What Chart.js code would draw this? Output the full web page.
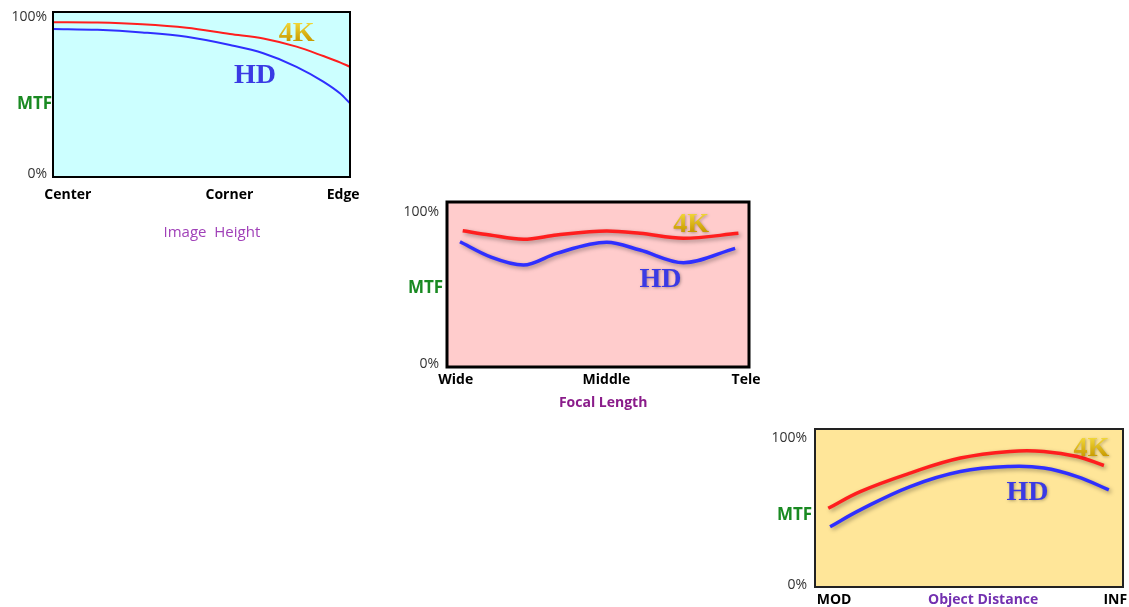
<!DOCTYPE html>
<html>
<head>
<meta charset="utf-8">
<script src="https://cdn.jsdelivr.net/npm/chart.js@4"></script>
<style>
  html, body { margin: 0; padding: 0; background: #fff; width: 1129px; height: 607px; overflow: hidden; }
  .box { position: absolute; }
</style>
</head>
<body>
<div class="box" style="left:0;top:0;width:370px;height:250px"><canvas id="c1"></canvas></div>
<div class="box" style="left:390px;top:190px;width:380px;height:230px"><canvas id="c2"></canvas></div>
<div class="box" style="left:760px;top:420px;width:369px;height:187px"><canvas id="c3"></canvas></div>
<script>
// ── Data ────────────────────────────────────────────────────────────────────
const Y_TICK_LABELS = ['0%', '100%'];

// 1. Image height
const X1_LABELS = ['Center', 'Corner', 'Edge'];
const X1_TICKS  = [0.05, 0.594, 0.977];
const Y1_TICKS  = [1.8, 96.8];
const IH_X      = [0, 0.15, 0.3, 0.45, 0.596, 0.708, 0.82, 0.91, 0.966, 1.0];
const IH_4K     = [93.8, 93.6, 92.6, 90.5, 86.7, 84.0, 79.0, 73.3, 69.5, 66.8];
const IH_HD     = [89.7, 89.2, 87.6, 85.0, 80.0, 75.0, 66.8, 57.8, 50.7, 44.7];

// 2. Focal length
const X2_LABELS = ['Wide', 'Middle', 'Tele'];
const X2_TICKS  = [0.029, 0.528, 0.99];
const Y2_TICKS  = [1.8, 94.1];
const FL_4K_X   = [0.052, 0.142, 0.253, 0.363, 0.529, 0.639, 0.783, 0.965];
const FL_4K     = [82.6, 80.0, 77.4, 80.0, 82.4, 81.0, 78.0, 81.0];
const FL_HD_X   = [0.043, 0.142, 0.253, 0.363, 0.529, 0.639, 0.783, 0.954];
const FL_HD     = [75.9, 66.9, 61.8, 68.9, 75.6, 70.9, 63.2, 71.9];

// 3. Object distance
const X3_LABELS = ['MOD', 'INF'];
const X3_TICKS  = [0.062, 0.975];
const Y3_TICKS  = [1.1, 94.3];
const OD_4K_X   = [0.043, 0.147, 0.309, 0.472, 0.634, 0.743, 0.851, 0.938];
const OD_4K     = [49.8, 60.4, 72.1, 81.6, 85.8, 85.8, 82.6, 76.9];
const OD_HD_X   = [0.049, 0.147, 0.309, 0.472, 0.634, 0.743, 0.851, 0.954];
const OD_HD     = [38.1, 48.8, 63.6, 73.1, 76.3, 75.3, 69.9, 61.5];

const RED  = '#ff1e1e';
const BLUE = '#2f2fff';

const pts = (xs, ys) => xs.map((x, i) => ({ x, y: ys[i] }));

// ── Plugin: panel background, border, MTF, series tags, axis title ─────────
const panelPlugin = {
  id: 'panel',
  beforeDraw(chart, args, o) {
    const { ctx, chartArea: a, scales } = chart;
    ctx.save();
    ctx.fillStyle = '#1a8a22';
    ctx.font = 'bold 17px "Open Sans", sans-serif';
    ctx.textBaseline = 'middle';
    ctx.textAlign = 'left';
    ctx.fillText('MTF', a.left + o.mtfDx, scales.y.getPixelForValue(o.mtfY));
    ctx.fillStyle = o.bg;
    ctx.fillRect(a.left, a.top, a.right - a.left, a.bottom - a.top);
    ctx.restore();
  },
  beforeDatasetDraw(chart, args, o) {
    if (!o.shadow) return;
    const ctx = chart.ctx;
    ctx.save();
    ctx.shadowColor = 'rgba(0,0,0,0.35)';
    ctx.shadowBlur = 4;
    ctx.shadowOffsetX = 2;
    ctx.shadowOffsetY = 2;
  },
  afterDatasetDraw(chart, args, o) {
    if (o.shadow) chart.ctx.restore();
  },
  afterDraw(chart, args, o) {
    const { ctx, chartArea: a, scales } = chart;
    ctx.save();
    ctx.strokeStyle = o.border;
    ctx.lineWidth = o.borderWidth;
    ctx.strokeRect(a.left, a.top, a.right - a.left, a.bottom - a.top);

    // series tags
    ctx.textAlign = 'center';
    ctx.textBaseline = 'alphabetic';
    ctx.font = 'bold 28px "Liberation Serif", serif';
    o.tags.forEach(t => {
      const x = scales.x.getPixelForValue(t.x);
      const y = scales.y.getPixelForValue(t.y);
      if (o.shadow) {
        ctx.shadowColor = 'rgba(0,0,0,0.3)';
        ctx.shadowBlur = 3;
        ctx.shadowOffsetX = 1;
        ctx.shadowOffsetY = 1;
      }
      if (t.gold) {
        const g = ctx.createLinearGradient(0, y - 20, 0, y);
        g.addColorStop(0, '#f5dc3c');
        g.addColorStop(1, '#c89a00');
        ctx.fillStyle = g;
      } else {
        ctx.fillStyle = '#3a3ae4';
      }
      ctx.fillText(t.text, x, y);
    });

    // axis title
    ctx.shadowColor = 'transparent';
    ctx.textBaseline = 'middle';
    ctx.fillStyle = o.titleColor;
    ctx.font = o.titleFont;
    ctx.fillText(o.title, scales.x.getPixelForValue(o.titleX), a.bottom + o.titleDy);
    ctx.restore();
  },
};

function makeChart(id, cfg) {
  const curve = cfg.mono ? { cubicInterpolationMode: 'monotone' } : { tension: 0.4 };
  return new Chart(document.getElementById(id), {
    type: 'line',
    data: {
      datasets: [
        { label: '4K', data: cfg.red, borderColor: RED, borderWidth: cfg.lw, pointRadius: 0,
          fill: false, ...curve },
        { label: 'HD', data: cfg.blue, borderColor: BLUE, borderWidth: cfg.lw, pointRadius: 0,
          fill: false, ...curve },
      ],
    },
    options: {
      responsive: true,
      maintainAspectRatio: false,
      animation: false,
      layout: { padding: cfg.pad },
      scales: {
        x: {
          type: 'linear', min: 0, max: 1,
          grid: { display: false, drawTicks: false },
          border: { display: false },
          afterBuildTicks: s => { s.ticks = cfg.xTicks.map(v => ({ value: v })); },
          afterFit: s => { s.height = cfg.xH; s.paddingLeft = 0; s.paddingRight = 0; },
          ticks: {
            autoSkip: false, maxRotation: 0, padding: cfg.xPad, color: '#000',
            font: { family: '"Open Sans", sans-serif', size: 14, weight: 'bold' },
            callback: (v, i) => cfg.xLabels[i],
          },
        },
        y: {
          min: 0, max: 100,
          grid: { display: false, drawTicks: false },
          border: { display: false },
          afterBuildTicks: s => { s.ticks = cfg.yTicks.map(v => ({ value: v })); },
          afterFit: s => { s.width = cfg.yW; s.paddingTop = 0; s.paddingBottom = 0; },
          ticks: {
            autoSkip: false, padding: cfg.yPad, color: '#333',
            font: { family: '"Open Sans", sans-serif', size: 14 },
            callback: (v, i) => Y_TICK_LABELS[i],
          },
        },
      },
      plugins: {
        legend: { display: false },
        tooltip: { enabled: false },
        panel: cfg.panel,
      },
    },
    plugins: [panelPlugin],
  });
}

makeChart('c1', {
  red: pts(IH_X, IH_4K), blue: pts(IH_X, IH_HD), lw: 2, mono: true,
  pad: { top: 12, right: 20, left: 0, bottom: 0 },
  xTicks: X1_TICKS, xLabels: X1_LABELS, yTicks: Y1_TICKS,
  xH: 73, yW: 53, xPad: 10, yPad: 6,
  panel: {
    bg: '#ccffff', border: '#000', borderWidth: 2, shadow: false,
    mtfDx: -36, mtfY: 44,
    tags: [{ text: '4K', x: 0.82, y: 82.4, gold: true }, { text: 'HD', x: 0.68, y: 57 }],
    title: 'Image  Height', titleX: 0.535, titleDy: 56, titleColor: '#a040b8',
    titleFont: '15px "Open Sans", sans-serif',
  },
});

makeChart('c2', {
  red: pts(FL_4K_X, FL_4K), blue: pts(FL_HD_X, FL_HD), lw: 3.5, mono: true,
  pad: { top: 12, right: 21, left: 0, bottom: 0 },
  xTicks: X2_TICKS, xLabels: X2_LABELS, yTicks: Y2_TICKS,
  xH: 53, yW: 57, xPad: 5, yPad: 8,
  panel: {
    bg: '#ffcccc', border: '#000', borderWidth: 3, shadow: true,
    mtfDx: -39, mtfY: 48,
    tags: [{ text: '4K', x: 0.808, y: 82, gold: true }, { text: 'HD', x: 0.707, y: 48.7 }],
    title: 'Focal Length', titleX: 0.517, titleDy: 36, titleColor: '#8a1c8a',
    titleFont: 'bold 14px "Open Sans", sans-serif',
  },
});

makeChart('c3', {
  red: pts(OD_4K_X, OD_4K), blue: pts(OD_HD_X, OD_HD), lw: 3.5, mono: false,
  pad: { top: 9, right: 6, left: 0, bottom: 0 },
  xTicks: X3_TICKS, xLabels: X3_LABELS, yTicks: Y3_TICKS,
  xH: 20, yW: 55, xPad: 5, yPad: 8,
  panel: {
    bg: '#ffe699', border: '#222', borderWidth: 2, shadow: true,
    mtfDx: -38, mtfY: 45.6,
    tags: [{ text: '4K', x: 0.897, y: 82.6, gold: true }, { text: 'HD', x: 0.69, y: 55.1 }],
    title: 'Object Distance', titleX: 0.546, titleDy: 13.3, titleColor: '#7330b0',
    titleFont: 'bold 14px "Open Sans", sans-serif',
  },
});
</script>
</body>
</html>
